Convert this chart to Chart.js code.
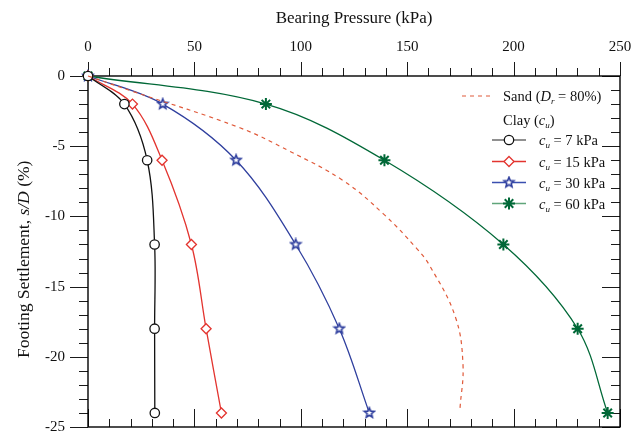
<!DOCTYPE html>
<html><head><meta charset="utf-8">
<script src="https://cdn.jsdelivr.net/npm/chart.js@4.4.0/dist/chart.umd.min.js"></script>
<style>
html,body{margin:0;padding:0;background:#fff;}
#wrap{position:relative;width:641px;height:435px;overflow:hidden;}
#c{position:absolute;left:0;top:0;}
.t{position:absolute;font-family:"Liberation Serif","Times New Roman",serif;font-weight:400;color:#111;white-space:nowrap;line-height:1;}
.lg{font-size:14.5px;transform:translateY(-50%);}
.t sub{font-size:9px;vertical-align:-3px;line-height:0;}
#ytitle{font-size:17.5px;writing-mode:vertical-rl;transform:rotate(180deg);left:14px;top:160px;height:198px;text-align:center;line-height:18px;}
</style></head><body>
<div id="wrap">
<canvas id="c" width="641" height="435"></canvas>
<div class="t" id="ytitle">Footing Settlement, <i>s/D</i> (%)</div>
<div class="t lg" style="left:503px;top:96px;">Sand (<i>D</i><sub><i>r</i></sub> = 80%)</div>
<div class="t lg" style="left:503px;top:120px;">Clay (<i>c</i><sub><i>u</i></sub>)</div>
<div class="t lg" style="left:539px;top:140px;"><i>c</i><sub><i>u</i></sub> = 7 kPa</div>
<div class="t lg" style="left:539px;top:161.5px;"><i>c</i><sub><i>u</i></sub> = 15 kPa</div>
<div class="t lg" style="left:539px;top:182.5px;"><i>c</i><sub><i>u</i></sub> = 30 kPa</div>
<div class="t lg" style="left:539px;top:203.5px;"><i>c</i><sub><i>u</i></sub> = 60 kPa</div>
</div>
<script>
// ---- data ----
const settlement = [0, -2, -6, -12, -18, -24];
const cu7  = [0, 17.1, 27.8, 31.3, 31.3, 31.4];
const cu15 = [0, 20.9, 34.8, 48.6, 55.5, 62.7];
const cu30 = [0, 35.1, 69.6, 97.6, 118.1, 132.2];
const cu60 = [0, 83.6, 139.3, 195.2, 230.1, 244.2];
const sandPressure   = [0, 21.3, 71.4, 94.9, 120.0, 138.8, 154.5, 160.5, 172.5, 176.2, 174.8];
const sandSettlement = [0, -1.11, -3.69, -5.37, -7.46, -9.82, -12.29, -13.49, -17.1, -20.5, -23.7];
const xTicksMajor = 50, xTicksMinor = 10, yTicksMajor = 5, yTicksMinor = 1;

const COL = {k:'#111111', r:'#e3342f', b:'#2f3f9e', g:'#006837', s:'#e05a3a'};
const pts = (xs, ys) => xs.map((v, i) => ({x: v, y: ys[i]}));
const SERIF = '"Liberation Serif", "Times New Roman", serif';

// 5-point star marker
function makeStar(color){
  const c = document.createElement('canvas'); c.width = 14; c.height = 14;
  const g = c.getContext('2d');
  g.beginPath();
  for (let i = 0; i < 10; i++){
    const r = i % 2 ? 2.3 : 5.2;
    const a = -Math.PI/2 + i*Math.PI/5;
    const px = 7 + r*Math.cos(a), py = 7 + r*Math.sin(a);
    i ? g.lineTo(px, py) : g.moveTo(px, py);
  }
  g.closePath();
  g.fillStyle = '#ffffff'; g.fill();
  g.strokeStyle = color; g.lineWidth = 1.6; g.lineJoin = 'miter'; g.stroke();
  return c;
}
const starImg = makeStar(COL.b);

function drawMarker(ctx, style, x, y, color){
  ctx.save();
  ctx.strokeStyle = color; ctx.fillStyle = '#fff';
  if (style === 'circle'){
    ctx.lineWidth = 1.3; ctx.beginPath(); ctx.arc(x, y, 4.7, 0, Math.PI*2); ctx.fill(); ctx.stroke();
  } else if (style === 'rectRot'){
    ctx.lineWidth = 1.3; const r = 5;
    ctx.beginPath(); ctx.moveTo(x, y-r); ctx.lineTo(x+r, y); ctx.lineTo(x, y+r); ctx.lineTo(x-r, y); ctx.closePath(); ctx.fill(); ctx.stroke();
  } else if (style === 'starImg'){
    ctx.drawImage(starImg, x-7, y-7);
  } else {
    ctx.lineWidth = 2; const r = 6; const d = r*Math.SQRT1_2;
    ctx.beginPath();
    ctx.moveTo(x-r, y); ctx.lineTo(x+r, y); ctx.moveTo(x, y-r); ctx.lineTo(x, y+r);
    ctx.moveTo(x-d, y-d); ctx.lineTo(x+d, y+d); ctx.moveTo(x-d, y+d); ctx.lineTo(x+d, y-d);
    ctx.stroke();
  }
  ctx.restore();
}

const framePlugin = {
  id: 'frame',
  beforeDatasetsDraw(chart){
    const {ctx, chartArea: a, scales: {x, y}} = chart;
    ctx.save();
    ctx.strokeStyle = '#1a1a1a'; ctx.lineWidth = 1;
    ctx.beginPath();
    for (let v = x.min; v <= x.max + 1e-9; v += xTicksMinor){
      const px = Math.round(x.getPixelForValue(v)) + 0.5;
      const maj = Math.abs(v % xTicksMajor) < 1e-9;
      ctx.moveTo(px, a.top); ctx.lineTo(px, a.top - (maj ? 14 : 8));
      ctx.moveTo(px, a.bottom); ctx.lineTo(px, a.bottom - (maj ? 18 : 8));
    }
    for (let v = y.min; v <= y.max + 1e-9; v += yTicksMinor){
      const py = Math.round(y.getPixelForValue(v)) + 0.5;
      const maj = Math.abs(v % yTicksMajor) < 1e-9;
      ctx.moveTo(a.left, py); ctx.lineTo(a.left - (maj ? 18 : 9), py);
      ctx.moveTo(a.right, py); ctx.lineTo(a.right - (maj ? 18 : 9), py);
    }
    ctx.stroke();
    ctx.lineWidth = 1.4; ctx.strokeStyle = '#000';
    ctx.strokeRect(a.left, a.top, a.right - a.left, a.bottom - a.top);
    ctx.restore();
  },
  afterDatasetsDraw(chart){
    const ctx = chart.ctx;
    ctx.save();
    ctx.strokeStyle = COL.s; ctx.lineWidth = 1.2; ctx.setLineDash([4, 4]);
    ctx.beginPath(); ctx.moveTo(462, 96); ctx.lineTo(492, 96); ctx.stroke();
    ctx.setLineDash([]);
    const rows = [
      {y: 140, line: '#6b6b6b', c: COL.k, s: 'circle'},
      {y: 161.5, line: COL.r, c: COL.r, s: 'rectRot'},
      {y: 182.5, line: '#3a4fb0', c: COL.b, s: 'starImg'},
      {y: 203.5, line: '#5fa57a', c: COL.g, s: 'asterisk'}
    ];
    rows.forEach(r => {
      ctx.strokeStyle = r.line; ctx.lineWidth = 1.5;
      ctx.beginPath(); ctx.moveTo(492, r.y); ctx.lineTo(526, r.y); ctx.stroke();
      drawMarker(ctx, r.s, 509, r.y, r.c);
    });
    ctx.restore();
  }
};

const lineDs = (label, xs, color, style, extra) => Object.assign({
  label, data: pts(xs, settlement), borderColor: color, borderWidth: 1.3,
  tension: 0.35, clip: false, pointStyle: style, pointRadius: 4.8,
  pointBorderColor: color, pointBackgroundColor: '#fff', pointBorderWidth: 1.3
}, extra || {});

function zeroPad(s){ s.paddingLeft = 0; s.paddingRight = 0; s.paddingTop = 0; s.paddingBottom = 0; }

new Chart(document.getElementById('c'), {
  type: 'line',
  data: {
    datasets: [
      {label: 'Sand (Dr = 80%)', data: pts(sandPressure, sandSettlement), borderColor: COL.s,
       borderWidth: 1.2, borderDash: [4, 4], pointRadius: 0, tension: 0.4, clip: false},
      lineDs('cu = 7 kPa', cu7, COL.k, 'circle', {pointRadius: 4.7}),
      lineDs('cu = 15 kPa', cu15, COL.r, 'rectRot', {pointRadius: 5}),
      lineDs('cu = 30 kPa', cu30, COL.b, starImg),
      lineDs('cu = 60 kPa', cu60, COL.g, 'star', {pointRadius: 6, pointBorderWidth: 2})
    ]
  },
  options: {
    responsive: false, animation: false, events: [],
    layout: {padding: {left: 0, top: 0, right: 21, bottom: 5}},
    plugins: {legend: {display: false}, tooltip: {enabled: false}},
    scales: {
      x: {
        type: 'linear', position: 'top', min: 0, max: 250,
        afterFit(s){ s.height = 76; zeroPad(s); },
        grid: {display: false, drawTicks: false}, border: {display: false},
        ticks: {stepSize: xTicksMajor, padding: 20, color: '#111', font: {family: SERIF, size: 15}},
        title: {display: true, text: 'Bearing Pressure (kPa)', color: '#111', padding: {top: 8, bottom: 0},
                font: {family: SERIF, size: 17}}
      },
      y: {
        type: 'linear', min: -25, max: 0,
        afterFit(s){ s.width = 88; zeroPad(s); },
        grid: {display: false, drawTicks: false}, border: {display: false},
        ticks: {stepSize: yTicksMajor, padding: 23, color: '#111', font: {family: SERIF, size: 15}}
      }
    }
  },
  plugins: [framePlugin]
});
</script>
</body></html>
